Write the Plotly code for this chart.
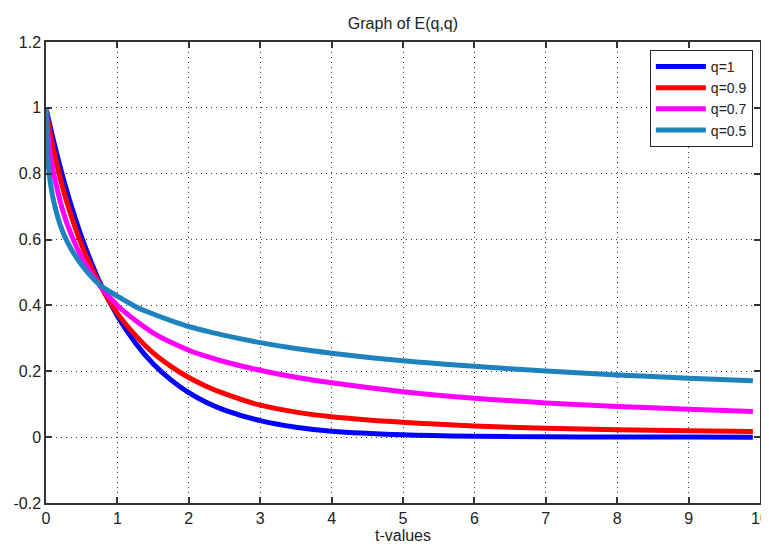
import plotly.graph_objects as go

# t sample points
t_values = [0, 0.02, 0.05, 0.1, 0.2, 0.3, 0.5, 0.75, 1, 1.25, 1.5, 1.75, 2, 2.25, 2.5, 3, 3.5, 4,
            5, 6, 7, 8, 9, 9.9]

# Series values
e_q1 = [1.0, 0.980, 0.951, 0.905, 0.819, 0.741, 0.607, 0.472, 0.368, 0.287, 0.223, 0.174, 0.135,
        0.105, 0.082, 0.050, 0.030, 0.018, 0.007, 0.0025, 0.001, 0.0003, 0.0001, 0.0]
e_q09 = [1.0, 0.970, 0.933, 0.878, 0.786, 0.708, 0.583, 0.465, 0.376, 0.310, 0.256, 0.215, 0.181,
         0.154, 0.132, 0.097, 0.076, 0.062, 0.045, 0.034, 0.027, 0.0225, 0.0195, 0.0173]
e_q07 = [1.0, 0.932, 0.876, 0.809, 0.715, 0.645, 0.546, 0.461, 0.400, 0.355, 0.317, 0.288, 0.264,
         0.245, 0.229, 0.203, 0.182, 0.165, 0.138, 0.118, 0.104, 0.093, 0.085, 0.078]
e_q05 = [1.0, 0.859, 0.790, 0.724, 0.644, 0.592, 0.523, 0.463, 0.428, 0.397, 0.374, 0.354, 0.336,
         0.322, 0.309, 0.287, 0.269, 0.255, 0.232, 0.215, 0.201, 0.189, 0.179, 0.171]

series_names = ["q=1", "q=0.9", "q=0.7", "q=0.5"]
series_values = [e_q1, e_q09, e_q07, e_q05]
series_colors = ["#0000FF", "#FF0000", "#FF00FF", "#1E82BE"]

x_ticks = list(range(0, 11))
y_ticks = [-0.2, 0, 0.2, 0.4, 0.6, 0.8, 1.0, 1.2]
y_tick_labels = ["-0.2", "0", "0.2", "0.4", "0.6", "0.8", "1", "1.2"]

fig = go.Figure()
for name, vals, col in zip(series_names, series_values, series_colors):
    fig.add_trace(go.Scatter(x=t_values, y=vals, mode="lines", name=name,
                             line=dict(color=col, width=5, shape="spline", smoothing=0.8)))

font_family = "Liberation Sans, Arial, sans-serif"
axis_common = dict(
    showline=True, linecolor="#333333", linewidth=1.5, mirror="ticks",
    ticks="inside", ticklen=6, tickcolor="#333333", tickwidth=1.5,
    showgrid=True, gridcolor="#333333", griddash="1px,4px", gridwidth=1,
    zeroline=False, automargin=False,
    tickfont=dict(family=font_family, size=16, color="#222222"),
)

fig.update_layout(
    width=761, height=540,
    paper_bgcolor="white", plot_bgcolor="white",
    margin=dict(l=38, r=9, t=34, b=45),
    title=dict(text="Graph of E(q,q)", x=0.519, xanchor="center", y=0.972, yanchor="middle",
               font=dict(family=font_family, size=16, color="#222222")),
    xaxis=dict(range=[0, 10], tickvals=x_ticks,
               title=dict(text="t-values", standoff=3,
                          font=dict(family=font_family, size=16, color="#222222")),
               **axis_common),
    yaxis=dict(range=[-0.2, 1.2], tickvals=y_ticks, ticktext=y_tick_labels, **axis_common),
    legend=dict(x=0.99, xanchor="right", y=0.983, yanchor="top",
                bgcolor="white", bordercolor="#222222", borderwidth=1,
                font=dict(family=font_family, size=14, color="#222222"),
                tracegroupgap=0, itemwidth=50),
    showlegend=True,
)

fig.write_html("out.html")
